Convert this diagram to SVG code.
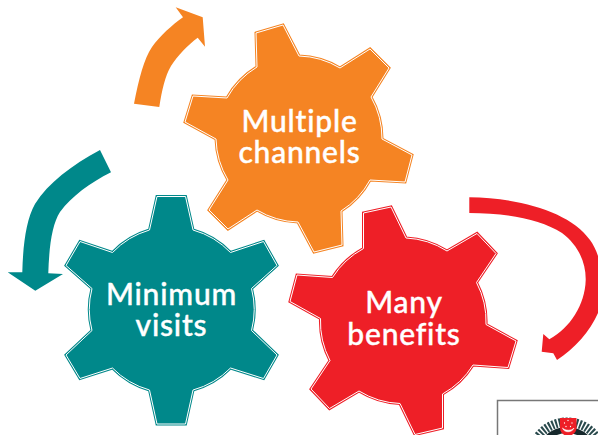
<svg xmlns="http://www.w3.org/2000/svg" width="598" height="435" viewBox="0 0 598 435">
<style>
.lbl{font-family:"Lato","Noto Sans",sans-serif;font-size:30px;font-weight:500;letter-spacing:.8px;fill:#fff;stroke:#fff;stroke-width:.4;text-anchor:middle}
.ln{fill:none;stroke:#fff;stroke-width:1;stroke-linejoin:miter}
.o{fill:#f58423;stroke:#f58423;stroke-width:3}
.t{fill:#00888a;stroke:#00888a;stroke-width:3}
.r{fill:#ee1f27;stroke:#ee1f27;stroke-width:3}
</style>
<defs>
<path id="po" d="M256 33L283 25L299 56A84 84 0 0 1 340 68L370 49L389 68L371 97A84 84 0 0 1 382 139L412 155L405 182L370 180A84 84 0 0 1 341 211L342 245L314 252L298 222A84 84 0 0 1 257 210L228 229L209 210L228 180A84 84 0 0 1 216 139L185 122L193 96L227 98A84 84 0 0 1 257 67Z"/>
<path id="pt" d="M157 196.500L185.500 196.500L193 230A83 83 0 0 1 230.500 252.500L263.500 241.500L277 265.500L251.500 288.500A83 83 0 0 1 251.500 330.500L277 355L263.500 378.500L230.500 368A83 83 0 0 1 193 390L185.500 424L157 424L149.500 390A83 83 0 0 1 112.500 368L80 378.500L66 355L92 330.500A83 83 0 0 1 92 288.500L66 265.500L80 241.500L112.500 252.500A83 83 0 0 1 149.500 230Z"/>
<path id="pr" d="M363.500 213L391 207L406 238A84 84 0 0 1 447 251L477 233.500L496 253.500L476.500 282.500A84 84 0 0 1 486 324.500L516 341L508 367.500L473 365A84 84 0 0 1 442.500 394L442.500 428L415 434.500L400 403.500A84 84 0 0 1 359 391L329.500 408.500L311 389L330 360.500A84 84 0 0 1 320.500 318.500L290 301.500L297 275L332.500 277.500A84 84 0 0 1 363.500 248.500Z"/>
</defs>
<g id="connectors">
<path id="arrow-orange" fill="#f58423" d="M134 103.700L159.300 107C162 90 165 76 171 66C178 55 188 45 197.700 37.700L205 46.700L202.700 17.300L175.700 7.300L183 17.300C172 25 160 36 152 47C144 59 139 78 134 103.700Z"/>
<path id="arrow-teal" fill="#00888a" d="M100 150L111 172.300C90 183 72 196 60 212C52 224 49 248 48.300 273.300L63 274L35.300 290.700L7.700 272.300L22.300 272.300C23 245 26 220 35 204C48 183 72 165 100 150Z"/>
<path id="arrow-red" fill="#ee1f27" d="M469.300 197.300C520 198 570 212 590 240C600 254 604 275 603 295C600 320 580 345 557 360L553.300 353.300L541.700 351.700L543.300 334L549.300 339.300C570 328 585 305 585.700 280C586 262 578 245 562 233C540 219 505 213 469.300 213Z"/>
</g>
<g id="gear-orange">
<use href="#po" class="o"/><use href="#po" class="ln"/>
<text class="lbl"><tspan x="299.500" y="132">Multiple</tspan><tspan x="299.500" y="163">channels</tspan></text>
</g>
<g id="gear-teal">
<use href="#pt" class="t"/><use href="#pt" class="ln"/>
<text class="lbl"><tspan x="171.500" y="305">Minimum</tspan><tspan x="171.500" y="336">visits</tspan></text>
</g>
<g id="gear-red">
<use href="#pr" class="r"/><use href="#pr" class="ln"/>
<text class="lbl"><tspan x="404" y="313">Many</tspan><tspan x="404" y="345">benefits</tspan></text>
</g>
<g id="emblem">
<path d="M497.500 435V400.500H598" fill="none" stroke="#777" stroke-width="1.500"/>
<circle cx="567" cy="458" r="36" fill="none" stroke="#2a4a4d" stroke-width="9" stroke-dasharray="2 1.500"/>
<circle cx="567" cy="458" r="28" fill="none" stroke="#16282c" stroke-width="6"/>
<path d="M560 418H576.500V428C576.500 433 572 435 568 437C564 435 560 433 560 428Z" fill="#ee1f27"/>
<path d="M562.500 428C564 433 572 433 574 428C572 431 565 431 562.500 428Z" fill="#fff" stroke="#fff" stroke-width=".6"/>
<path d="M568 420.500v.01M564.500 423v.01M572 423v.01M566 426.500v.01M570.500 426.500v.01" stroke="#fff" stroke-width="1.300" stroke-linecap="round"/>
</g>
</svg>
